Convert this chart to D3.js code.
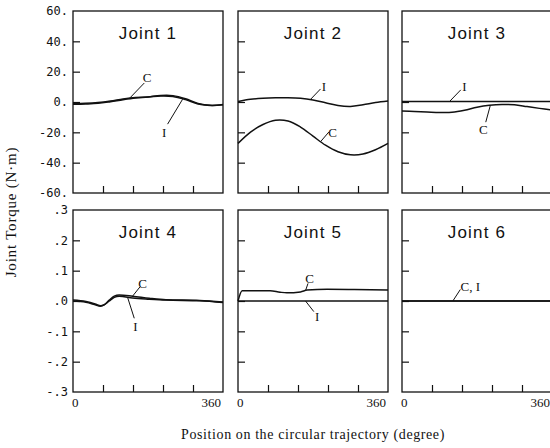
<!DOCTYPE html>
<html><head><meta charset="utf-8">
<script src="https://cdn.jsdelivr.net/npm/d3@7"></script>
<style>
html,body{margin:0;padding:0;background:#fff;}
svg{display:block;}
</style></head>
<body>
<svg id="chart" width="550" height="448"></svg>
<script>
// ---------- data ----------
const panelTitles = ["Joint 1","Joint 2","Joint 3","Joint 4","Joint 5","Joint 6"];
const xTickValues = [0, 72, 144, 216, 288, 360];
const xTickLabels = ["0", "360"];
const yTicksTop = [60, 40, 20, 0, -20, -40, -60];
const yTickLabelsTop = ["60.", "40.", "20.", "0.", "-20.", "-40.", "-60."];
const yTicksBottom = [0.3, 0.2, 0.1, 0.0, -0.1, -0.2, -0.3];
const yTickLabelsBottom = [".3", ".2", ".1", ".0", "-.1", "-.2", "-.3"];

const degGrid = [0, 30, 60, 90, 120, 150, 180, 210, 240, 270, 300, 330, 360];
const degJ4 = [0, 31, 55, 66, 75, 87, 99, 111, 143, 183, 223, 304, 360];
const degJ5 = [0, 10, 77, 101, 117, 150, 166, 214, 279, 360];

const j1C = [-1.1, -0.9, -0.4, 0.6, 2.0, 3.0, 3.3, 4.0, 3.7, 1.6, -1.3, -2.3, -1.7];
const j1I = [-1.5, -1.3, -0.9, 0.2, 1.5, 2.6, 3.3, 4.3, 4.2, 2.2, -0.9, -2.2, -1.8];
const j2C = [-27.3, -19.8, -14.8, -12.0, -12.5, -16.5, -22.5, -28.5, -32.8, -34.8, -34.3, -31.5, -27.3];
const j2I = [0.4, 1.8, 2.5, 2.8, 2.8, 2.4, 1.3, -0.5, -2.3, -2.9, -1.8, -0.4, 0.6];
const j3C = [-6.0, -6.3, -6.6, -6.9, -6.8, -5.5, -3.5, -2.2, -1.6, -1.8, -3.0, -4.2, -5.3];
const j3I = [0.3, 0.3, 0.3, 0.3, 0.3, 0.3, 0.3, 0.3, 0.3, 0.3, 0.3, 0.3, 0.3];
const j4C = [0.003, -0.002, -0.011, -0.016, -0.012, 0.003, 0.016, 0.020, 0.016, 0.009, 0.004, 0.002, -0.003];
const j4I = [0.000, -0.004, -0.013, -0.017, -0.013, 0.000, 0.012, 0.016, 0.010, 0.006, 0.003, 0.001, -0.005];
const j5C = [0.000, 0.034, 0.034, 0.029, 0.027, 0.030, 0.036, 0.039, 0.038, 0.036];
const j5I = [0, 0, 0, 0, 0, 0, 0, 0, 0, 0];
const j6C = [0, 0, 0, 0, 0, 0, 0, 0, 0, 0, 0, 0, 0];
const j6I = [0, 0, 0, 0, 0, 0, 0, 0, 0, 0, 0, 0, 0];

// annotation labels: text, curve point (deg,val), leader end (deg,val), label (deg,val)
const notes = [
  [{t:"C", p:[137,2.8], q:[171,12.5], l:[178,16]}, {t:"I", p:[263,1.8], q:[227,-14.6], l:[219,-20]}],
  [{t:"I", p:[174,1.7], q:[198,8.6], l:[206,10.5]}, {t:"C", p:[198,-26.2], q:[218,-19.8], l:[227,-20.4]}],
  [{t:"I", p:[114,0.3], q:[141,8], l:[150,10.3]}, {t:"C", p:[212,-2.2], q:[201,-13.3], l:[195,-18]}],
  [{t:"C", p:[143,0.016], q:[161,0.047], l:[167,0.058]}, {t:"I", p:[131,0.012], q:[147,-0.057], l:[150,-0.084]}],
  [{t:"C", p:[162,0.034], q:[168,0.058], l:[172,0.074]}, {t:"I", p:[162,0], q:[182,-0.035], l:[190,-0.051]}],
  [{t:"C, I", p:[122,0], q:[140,0.038], l:[164,0.047]}]
];

// ---------- layout ----------
const colX = [73, 238, 402];
const rowY = [11, 210];
const pw = 150, ph = 182;

const panels = [
  {deg: degGrid, C: j1C, I: j1I, dom:[-60,60], smooth:true},
  {deg: degGrid, C: j2C, I: j2I, dom:[-60,60], smooth:true},
  {deg: degGrid, C: j3C, I: j3I, dom:[-60,60], smooth:true},
  {deg: degJ4, C: j4C, I: j4I, dom:[-0.3,0.3], smooth:false},
  {deg: degJ5, C: j5C, I: j5I, dom:[-0.3,0.3], smooth:false},
  {deg: degGrid, C: j6C, I: j6I, dom:[-0.3,0.3], smooth:true}
];

const svg = d3.select("#chart");
const monoFont = "'DejaVu Sans Mono', monospace";
const serif = "'Liberation Serif', 'DejaVu Serif', serif";
const sans = "'Liberation Sans', Arial, sans-serif";

panels.forEach((p, i) => {
  const r = Math.floor(i / 3), c = i % 3;
  const g = svg.append("g").attr("transform", `translate(${colX[c]},${rowY[r]})`);
  const x = d3.scaleLinear().domain([0, 360]).range([0, pw]);
  const y = d3.scaleLinear().domain(p.dom).range([ph, 0]);

  const yt = r === 0 ? yTicksTop : yTicksBottom;
  const ylab = r === 0 ? yTickLabelsTop : yTickLabelsBottom;
  const yAxis = d3.axisLeft(y).tickValues(yt.slice(1, -1)).tickSize(-7).tickFormat("");
  g.append("g").call(yAxis).call(s => s.select(".domain").remove())
    .selectAll("line").attr("stroke", "#111").attr("stroke-width", 1.2);

  const xAxis = d3.axisBottom(x).tickValues(xTickValues.slice(1, -1)).tickSize(-7).tickFormat("");
  g.append("g").attr("transform", `translate(0,${ph})`).call(xAxis)
    .call(s => s.select(".domain").remove())
    .selectAll("line").attr("stroke", "#111").attr("stroke-width", 1.2);

  g.append("rect").attr("x", 0).attr("y", 0).attr("width", pw).attr("height", ph)
    .attr("fill", "none").attr("stroke", "#111").attr("stroke-width", 1.3);

  if (c === 0) {
    g.selectAll(".ylab").data(yt).enter().append("text")
      .attr("x", -5).attr("y", d => y(d)).attr("dy", "0.35em")
      .attr("text-anchor", "end")
      .attr("font-family", monoFont).attr("font-size", 12).attr("fill", "#111")
      .text((d, k) => ylab[k]);
  }
  if (r === 1) {
    g.append("text").attr("x", x(0) - 1).attr("y", ph + 15)
      .attr("font-family", serif).attr("font-size", 13).attr("fill", "#111")
      .text(xTickLabels[0]);
    g.append("text").attr("x", x(360) - 2).attr("y", ph + 15).attr("text-anchor", "end")
      .attr("font-family", serif).attr("font-size", 13).attr("fill", "#111")
      .text(xTickLabels[1]);
  }

  g.append("text").attr("x", pw / 2).attr("y", 28).attr("text-anchor", "middle")
    .attr("font-family", sans).attr("font-size", 17).attr("letter-spacing", 1.2)
    .attr("fill", "#111").text(panelTitles[i]);

  const line = d3.line().x(d => x(d[0])).y(d => y(d[1]))
    .curve(p.smooth ? d3.curveCatmullRom.alpha(0.5) : d3.curveMonotoneX);
  [p.I, p.C].forEach(vals => {
    g.append("path").datum(p.deg.map((d, k) => [d, vals[k]]))
      .attr("d", line).attr("fill", "none").attr("stroke", "#111").attr("stroke-width", 1.5);
  });

  notes[i].forEach(n => {
    g.append("line").attr("x1", x(n.p[0])).attr("y1", y(n.p[1]))
      .attr("x2", x(n.q[0])).attr("y2", y(n.q[1]))
      .attr("stroke", "#111").attr("stroke-width", 1);
    g.append("text").attr("x", x(n.l[0])).attr("y", y(n.l[1])).attr("dy", "0.35em")
      .attr("text-anchor", "middle").attr("font-family", serif).attr("font-size", 13)
      .attr("fill", "#111").text(n.t);
  });
});

svg.append("text").attr("transform", "translate(16,212) rotate(-90)")
  .attr("text-anchor", "middle").attr("font-family", serif).attr("font-size", 15)
  .attr("letter-spacing", 0.8).attr("fill", "#111").text("Joint Torque (N\u00b7m)");
svg.append("text").attr("x", 313).attr("y", 439).attr("text-anchor", "middle")
  .attr("font-family", serif).attr("font-size", 14).attr("letter-spacing", 0.6).attr("fill", "#111")
  .text("Position on the circular trajectory (degree)");
</script>
</body></html>
